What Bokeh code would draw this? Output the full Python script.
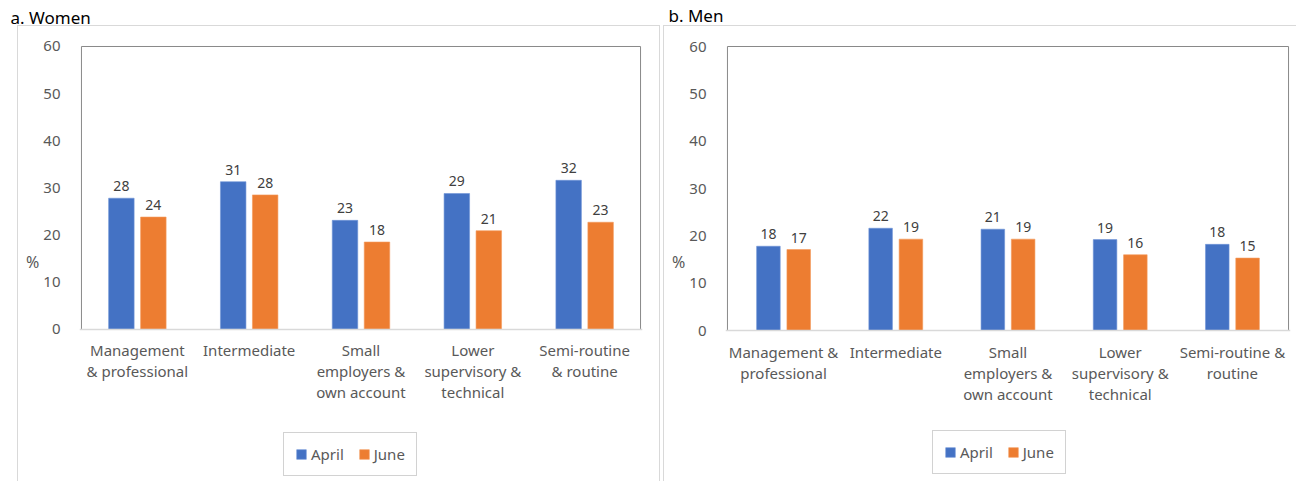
from bokeh.plotting import figure
from bokeh.models import (ColumnDataSource, FactorRange, Range1d, FixedTicker,
                          Legend, LegendItem, Title)
from bokeh.transform import dodge
from bokeh.layouts import row
from bokeh.embed import file_html
from bokeh.resources import INLINE
from bokeh.core.properties import value

# ---------------- data ----------------
women_categories = ["Management\n& professional", "Intermediate", "Small\nemployers &\nown account",
                    "Lower\nsupervisory &\ntechnical", "Semi-routine\n& routine"]
men_categories = ["Management &\nprofessional", "Intermediate", "Small\nemployers &\nown account",
                  "Lower\nsupervisory &\ntechnical", "Semi-routine &\nroutine"]
series_names = ["April", "June"]
women_april = [27.8, 31.3, 23.1, 28.8, 31.6]
women_june = [23.8, 28.5, 18.5, 20.9, 22.7]
men_april = [17.8, 21.6, 21.4, 19.2, 18.2]
men_june = [17.1, 19.3, 19.3, 16.0, 15.3]
y_ticks = [0, 10, 20, 30, 40, 50, 60]
panel_titles = ["a. Women", "b. Men"]
y_label = "%"

FONT = "Noto Sans"
BLUE = "#4472C4"
ORANGE = "#ED7D31"
GREY_TXT = "#595959"
FIG_H = 481
PX_PER_UNIT = 284 / 60.0   # vertical scale of the value axis


def make_title(text, offset, pad_bottom):
    kw = dict(text=text, align="left", offset=offset,
              text_font=FONT, text_font_size="17px", text_font_style="normal",
              text_color="#000000")
    try:
        return Title(standoff=0, padding=dict(left=0, right=0, top=0, bottom=pad_bottom), **kw)
    except Exception:
        return Title(standoff=17, **kw)


def make_panel(title, cats, april, june, width, borders, frame_bottom_px, legend_loc,
               title_offset, title_pad, bar_w, off, bg):
    src = ColumnDataSource(dict(
        cat=cats, april=april, june=june,
        april_lbl=[f"{v:.0f}" for v in april],
        june_lbl=[f"{v:.0f}" for v in june],
    ))
    left, right, top, bottom = borders
    y0, y1 = y_ticks[0], y_ticks[-1]
    pad = 2 / PX_PER_UNIT
    p = figure(x_range=FactorRange(*cats, range_padding=0.007, factor_padding=0),
               y_range=Range1d(y0 - frame_bottom_px / PX_PER_UNIT, y1 + pad),
               width=width, height=FIG_H,
               output_backend="svg", toolbar_location=None, tools="",
               min_border_left=left, min_border_right=right,
               min_border_top=top, min_border_bottom=bottom)
    p.border_fill_color = None
    p.background_fill_color = "white"
    p.outline_line_color = None
    p.styles = bg

    p.add_layout(make_title(title, title_offset, title_pad), "above")

    # plot-area box (left, top, right edges)
    n = len(cats)
    p.line(x=[0, 0, n, n], y=[y0, y1, y1, y0], line_color="#898989", line_width=1)

    ra = p.vbar(x=dodge("cat", -off, range=p.x_range), top="april", width=bar_w,
                source=src, fill_color=BLUE, line_color="#6f93d6", line_width=0.6)
    rj = p.vbar(x=dodge("cat", off, range=p.x_range), top="june", width=bar_w,
                source=src, fill_color=ORANGE, line_color="#f39a5c", line_width=0.6)

    for fld, lbl, o in (("april", "april_lbl", -off), ("june", "june_lbl", off)):
        p.text(x=dodge("cat", o, range=p.x_range), y=fld, text=lbl, source=src,
               text_align="center", text_baseline="bottom", y_offset=-7,
               text_font=value(FONT), text_font_size="14px", text_color="#404040")

    p.xgrid.grid_line_color = None
    p.ygrid.grid_line_color = None

    p.yaxis.ticker = FixedTicker(ticks=y_ticks)
    p.yaxis.bounds = (y0, y1)
    p.yaxis.axis_line_color = None
    p.yaxis.major_tick_line_color = None
    p.yaxis.minor_tick_line_color = None
    p.yaxis.major_label_standoff = 13
    p.yaxis.major_label_text_font = FONT
    p.yaxis.major_label_text_font_size = "15px"
    p.yaxis.major_label_text_color = GREY_TXT
    p.yaxis.axis_label = y_label
    p.yaxis.axis_label_text_font = FONT
    p.yaxis.axis_label_text_font_size = "16px"
    p.yaxis.axis_label_text_font_style = "normal"
    p.yaxis.axis_label_text_color = GREY_TXT
    p.yaxis.axis_label_standoff = 1
    p.yaxis.axis_label_orientation = "horizontal"

    p.xaxis.fixed_location = y0
    p.xaxis.axis_line_color = "#d9d9d9"
    p.xaxis.axis_line_width = 1.5
    p.xaxis.major_tick_line_color = None
    p.xaxis.minor_tick_line_color = None
    p.xaxis.major_label_standoff = 5
    p.xaxis.major_label_text_font = FONT
    p.xaxis.major_label_text_font_size = "15px"
    p.xaxis.major_label_text_color = GREY_TXT
    p.xaxis.major_label_text_line_height = 1.05

    legend = Legend(items=[LegendItem(label=series_names[0], renderers=[ra]),
                           LegendItem(label=series_names[1], renderers=[rj])],
                    orientation="horizontal", location=legend_loc,
                    glyph_width=12, glyph_height=12, label_standoff=4, spacing=14,
                    padding=11, margin=0,
                    label_text_font=FONT, label_text_font_size="15px",
                    label_text_color=GREY_TXT,
                    border_line_color="#a6a6a6", border_line_width=1,
                    background_fill_color="white", background_fill_alpha=1)
    p.add_layout(legend, "center")
    return p


LINE = "linear-gradient(#d9d9d9, #d9d9d9)"
bg_a = {"background-color": "white",
        "background-image": f"{LINE}, {LINE}, {LINE}",
        "background-position": "7px 25px, 7px 25px, 649px 25px",
        "background-size": "1px 456px, 643px 1px, 1px 456px",
        "background-repeat": "no-repeat"}
bg_b = {"background-color": "white",
        "background-image": f"{LINE}, {LINE}",
        "background-position": "0px 25px, 0px 25px",
        "background-size": "1px 456px, 633px 1px",
        "background-repeat": "no-repeat"}

# women: figure x 10..660, frame x 79..642, y 42..479
p_a = make_panel(panel_titles[0], women_categories, women_april, women_june, 650,
                 (69, 18, 42, 2), 479 - 328, (204, 3), -69, 16, 0.228, 0.143, bg_a)
p_a.margin = (0, 0, 0, 10)

# men: figure x 663..1296, frame x 725..1290, y 44..479
p_b = make_panel(panel_titles[1], men_categories, men_april, men_june, 633,
                 (62, 6, 44, 2), 479 - 330, (207, 5), -57, 18, 0.21, 0.135, bg_b)
p_b.margin = (0, 0, 0, 3)

layout = row(p_a, p_b, spacing=0)

open("out.html", "w").write(file_html(layout, INLINE))
